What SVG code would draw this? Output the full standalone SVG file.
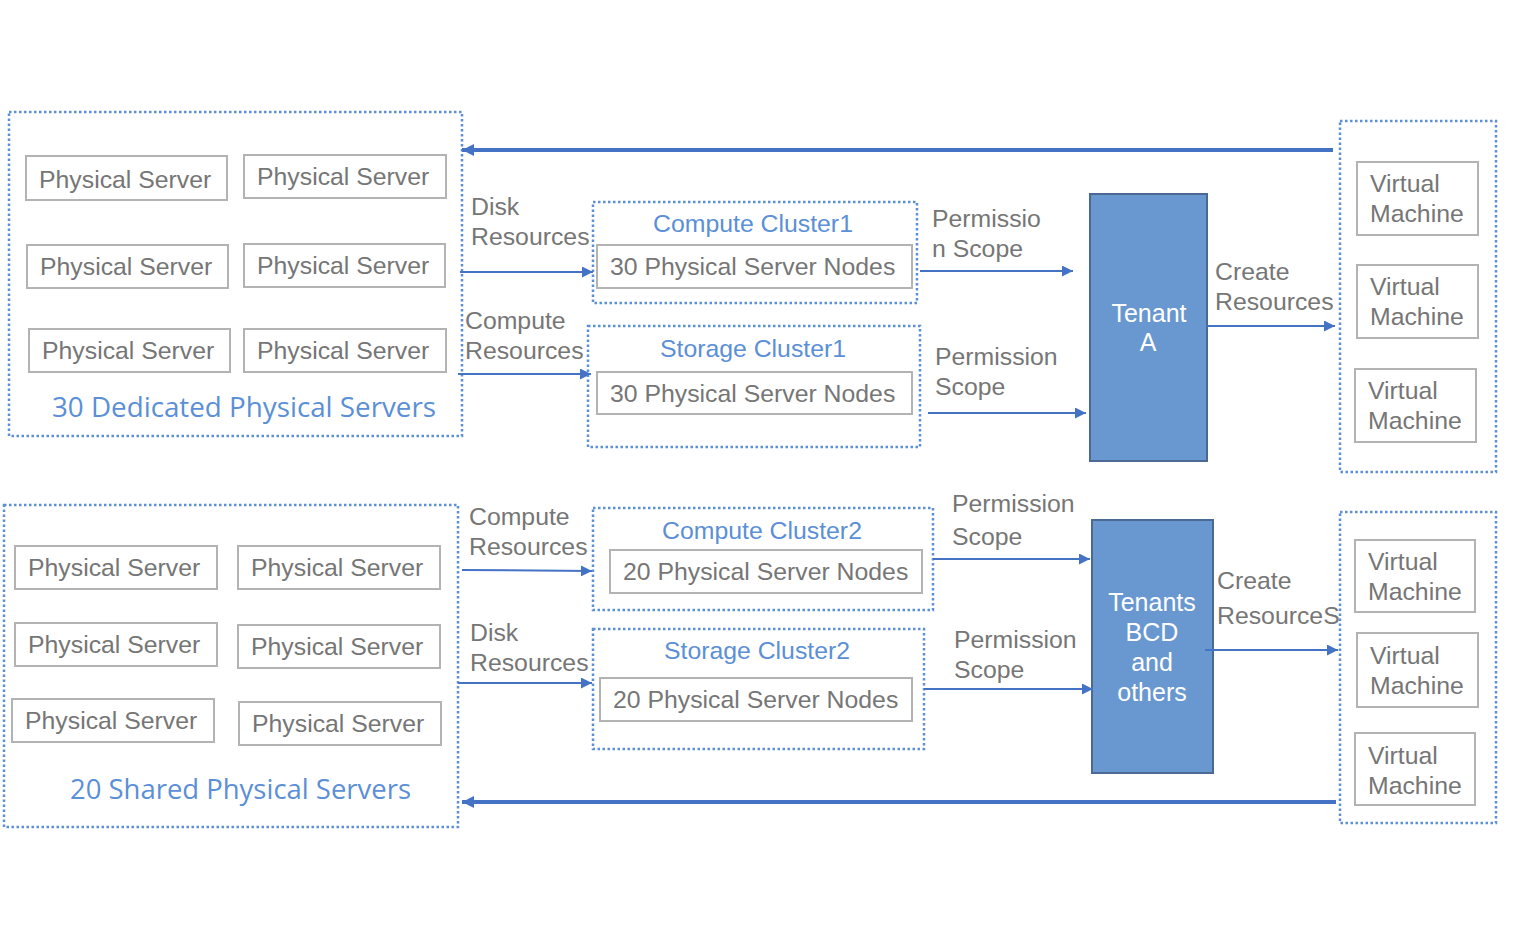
<svg xmlns="http://www.w3.org/2000/svg" width="1524" height="938" viewBox="0 0 1524 938">
<style>
.grp{fill:none;stroke:#5b8fd6;stroke-width:2.5;stroke-dasharray:2.5 2.5}
.box{fill:#fff;stroke:#b3b3b3;stroke-width:2}
.t{font-family:"Liberation Sans",Arial,sans-serif;font-size:24.8px;fill:#767676}
.bt{font-family:"Liberation Sans",Arial,sans-serif;font-size:24.8px;fill:#5b8fd6}
.big{font-family:"Open Sans","Liberation Sans",sans-serif;font-size:28px;fill:#5b8fd6}
.ten{fill:#6898cf;stroke:#4a6a94;stroke-width:2}
.wt{font-family:"Liberation Sans",Arial,sans-serif;font-size:25px;fill:#fff;text-anchor:middle}
.ln{fill:none;stroke:#4472c4;stroke-width:2}
.th{fill:none;stroke:#4472c4;stroke-width:4}
</style>
<defs>
<marker id="a" viewBox="0 0 10 10" refX="10" refY="5" markerWidth="11" markerHeight="11" markerUnits="userSpaceOnUse" orient="auto"><path d="M0,0L10,5L0,10z" fill="#4472c4"/></marker>
<marker id="b" viewBox="0 0 10 10" refX="10" refY="5" markerWidth="12" markerHeight="12" markerUnits="userSpaceOnUse" orient="auto"><path d="M0,0L10,5L0,10z" fill="#4472c4"/></marker>
</defs>

<g id="dedicated">
<rect class="grp" x="9" y="112" width="453" height="324"/>
<rect class="box" x="26" y="156" width="201" height="44"/><text class="t" x="39" y="188">Physical Server</text>
<rect class="box" x="244" y="155" width="202" height="43"/><text class="t" x="257" y="185">Physical Server</text>
<rect class="box" x="27" y="245" width="201" height="43"/><text class="t" x="40" y="275">Physical Server</text>
<rect class="box" x="244" y="244" width="201" height="43"/><text class="t" x="257" y="274">Physical Server</text>
<rect class="box" x="29" y="329" width="201" height="43"/><text class="t" x="42" y="359">Physical Server</text>
<rect class="box" x="244" y="329" width="202" height="43"/><text class="t" x="257" y="359">Physical Server</text>
<text class="big" x="52" y="417" textLength="384" lengthAdjust="spacingAndGlyphs">30 Dedicated Physical Servers</text>
</g>

<g id="compute1">
<rect class="grp" x="593" y="202" width="324" height="101"/>
<text class="bt" x="753" y="232" text-anchor="middle">Compute Cluster1</text>
<rect class="box" x="597" y="245" width="315" height="43"/>
<text class="t" x="610" y="275">30 Physical Server Nodes</text>
</g>

<g id="storage1">
<rect class="grp" x="588" y="326" width="332" height="121"/>
<text class="bt" x="753" y="357" text-anchor="middle">Storage Cluster1</text>
<rect class="box" x="597" y="372" width="315" height="42"/>
<text class="t" x="610" y="402">30 Physical Server Nodes</text>
</g>

<g id="tenantA">
<rect class="ten" x="1090" y="194" width="117" height="267"/>
<text class="wt" x="1149" y="322">Tenant</text>
<text class="wt" x="1148" y="351">A</text>
</g>

<g id="vm1">
<rect class="grp" x="1340" y="121" width="156" height="351"/>
<rect class="box" x="1357" y="162" width="121" height="73"/><text class="t" x="1370" y="192">Virtual</text><text class="t" x="1370" y="222">Machine</text>
<rect class="box" x="1357" y="265" width="121" height="73"/><text class="t" x="1370" y="295">Virtual</text><text class="t" x="1370" y="325">Machine</text>
<rect class="box" x="1355" y="369" width="121" height="73"/><text class="t" x="1368" y="399">Virtual</text><text class="t" x="1368" y="429">Machine</text>
</g>

<g id="shared">
<rect class="grp" x="4" y="505" width="454" height="322"/>
<rect class="box" x="15" y="546" width="202" height="43"/><text class="t" x="28" y="576">Physical Server</text>
<rect class="box" x="238" y="546" width="202" height="43"/><text class="t" x="251" y="576">Physical Server</text>
<rect class="box" x="15" y="623" width="202" height="43"/><text class="t" x="28" y="653">Physical Server</text>
<rect class="box" x="238" y="625" width="202" height="43"/><text class="t" x="251" y="655">Physical Server</text>
<rect class="box" x="12" y="699" width="202" height="43"/><text class="t" x="25" y="729">Physical Server</text>
<rect class="box" x="239" y="702" width="202" height="43"/><text class="t" x="252" y="732">Physical Server</text>
<text class="big" x="70" y="799" textLength="341" lengthAdjust="spacingAndGlyphs">20 Shared Physical Servers</text>
</g>

<g id="compute2">
<rect class="grp" x="593" y="508" width="340" height="102"/>
<text class="bt" x="762" y="539" text-anchor="middle">Compute Cluster2</text>
<rect class="box" x="610" y="550" width="312" height="43"/>
<text class="t" x="623" y="580">20 Physical Server Nodes</text>
</g>

<g id="storage2">
<rect class="grp" x="593" y="629" width="331" height="120"/>
<text class="bt" x="757" y="659" text-anchor="middle">Storage Cluster2</text>
<rect class="box" x="600" y="678" width="312" height="43"/>
<text class="t" x="613" y="708">20 Physical Server Nodes</text>
</g>

<g id="tenantsBCD">
<rect class="ten" x="1092" y="520" width="121" height="253"/>
<text class="wt" x="1152" y="611">Tenants</text>
<text class="wt" x="1152" y="641">BCD</text>
<text class="wt" x="1152" y="671">and</text>
<text class="wt" x="1152" y="701">others</text>
</g>

<g id="vm2">
<rect class="grp" x="1340" y="512" width="156" height="311"/>
<rect class="box" x="1355" y="540" width="120" height="72"/><text class="t" x="1368" y="570">Virtual</text><text class="t" x="1368" y="600">Machine</text>
<rect class="box" x="1357" y="633" width="121" height="74"/><text class="t" x="1370" y="664">Virtual</text><text class="t" x="1370" y="694">Machine</text>
<rect class="box" x="1355" y="733" width="120" height="72"/><text class="t" x="1368" y="764">Virtual</text><text class="t" x="1368" y="794">Machine</text>
</g>

<g id="connectors">
<line class="th" x1="1333" y1="150" x2="462" y2="150" marker-end="url(#b)"/>
<line class="th" x1="1336" y1="802" x2="462" y2="802" marker-end="url(#b)"/>
<line class="ln" x1="460" y1="272" x2="593" y2="272" marker-end="url(#a)"/>
<line class="ln" x1="458" y1="374" x2="591" y2="374" marker-end="url(#a)"/>
<line class="ln" x1="920" y1="271" x2="1073" y2="271" marker-end="url(#a)"/>
<line class="ln" x1="928" y1="413" x2="1086" y2="413" marker-end="url(#a)"/>
<line class="ln" x1="1207" y1="326" x2="1335" y2="326" marker-end="url(#a)"/>
<line class="ln" x1="462" y1="570" x2="592" y2="571" marker-end="url(#a)"/>
<line class="ln" x1="458" y1="683" x2="592" y2="683" marker-end="url(#a)"/>
<line class="ln" x1="933" y1="559" x2="1090" y2="559" marker-end="url(#a)"/>
<line class="ln" x1="924" y1="689" x2="1093" y2="689" marker-end="url(#a)"/>
<line class="ln" x1="1205" y1="650" x2="1338" y2="650" marker-end="url(#a)"/>
<text class="t" x="471" y="215">Disk</text><text class="t" x="471" y="245">Resources</text>
<text class="t" x="465" y="329">Compute</text><text class="t" x="465" y="359">Resources</text>
<text class="t" x="932" y="227">Permissio</text><text class="t" x="932" y="257">n Scope</text>
<text class="t" x="935" y="365">Permission</text><text class="t" x="935" y="395">Scope</text>
<text class="t" x="1215" y="280">Create</text><text class="t" x="1215" y="310">Resources</text>
<text class="t" x="469" y="525">Compute</text><text class="t" x="469" y="555">Resources</text>
<text class="t" x="470" y="641">Disk</text><text class="t" x="470" y="671">Resources</text>
<text class="t" x="952" y="512">Permission</text><text class="t" x="952" y="545">Scope</text>
<text class="t" x="954" y="648">Permission</text><text class="t" x="954" y="678">Scope</text>
<text class="t" x="1217" y="589">Create</text><text class="t" x="1217" y="624">ResourceS</text>
</g>
</svg>
